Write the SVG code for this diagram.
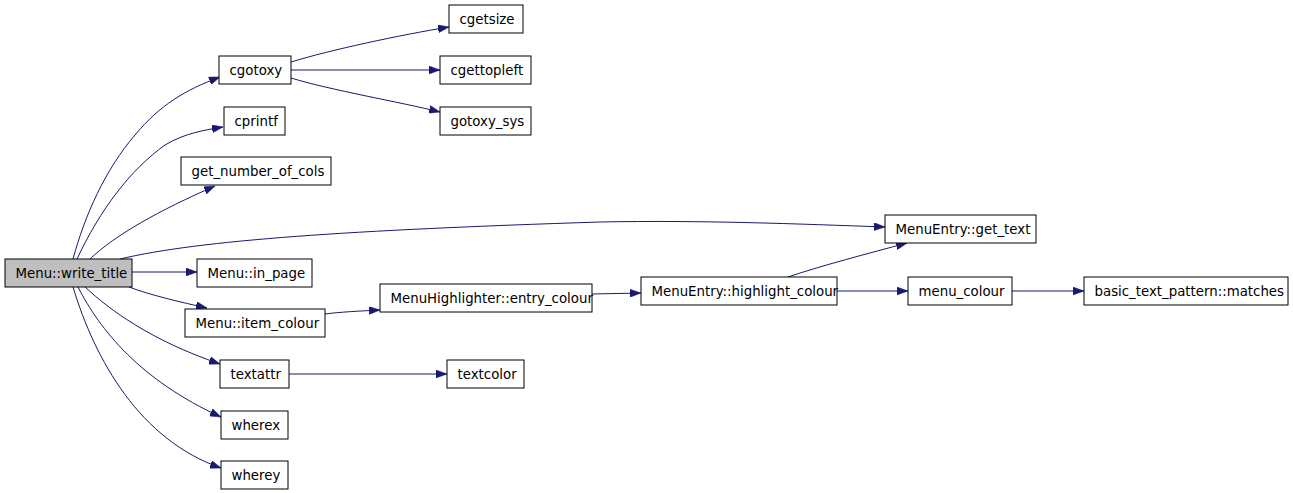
<svg xmlns="http://www.w3.org/2000/svg" width="1293" height="493" viewBox="0 0 1293 493">
<style>
.n rect{fill:#ffffff;stroke:#000000;stroke-width:1}
.n.root rect{fill:#bfbfbf}
.n text{font-family:"DejaVu Sans",sans-serif;font-size:13.33px;fill:#000000}
.e path{fill:none;stroke:#191970;stroke-width:1;marker-end:url(#ah)}
</style>
<defs>
<marker id="ah" markerUnits="userSpaceOnUse" markerWidth="11" markerHeight="8" refX="11" refY="4" orient="auto">
<path d="M0,0 L11,4 L0,8 z" fill="#191970" stroke="#191970" stroke-width="0.5"/>
</marker>
</defs>
<rect width="1293" height="493" fill="#ffffff"/>
<g id="edges" class="e">
<path d="M73,259 C85,215 105,170 135,135 C160,105 185,90 220,77"/>
<path d="M77,259 C100,210 130,170 165,145 C185,133 205,130 223,127"/>
<path d="M90,259 C115,235 160,210 215,186"/>
<path d="M120,259 C200,240 350,230 600,222 C700,220 800,224 885,227"/>
<path d="M132,272 L197,272"/>
<path d="M129,287 C150,295 180,302 207,308"/>
<path d="M85,287 C110,310 150,340 220,364"/>
<path d="M78,287 C100,330 140,380 221,417"/>
<path d="M73,287 C95,360 140,440 221,468"/>
<path d="M291,62 C330,50 400,35 449,27"/>
<path d="M291,70 L440,70"/>
<path d="M291,78 C330,90 400,102 440,112"/>
<path d="M325,314 C340,312 360,311 380,310"/>
<path d="M592,294 L641,293"/>
<path d="M788,277 C820,266 870,253 907,243"/>
<path d="M837,291 L908,291"/>
<path d="M1012,291 L1084,291"/>
<path d="M289,374 L447,374"/>
</g>
<g id="n_write_title" class="n root"><rect x="5" y="259" width="127" height="28"/><text x="15.5" y="277.5">Menu::write_title</text></g>
<g id="n_cgotoxy" class="n"><rect x="219" y="56" width="72" height="28"/><text x="229.5" y="74.5">cgotoxy</text></g>
<g id="n_cgetsize" class="n"><rect x="449" y="5" width="74" height="28"/><text x="459.5" y="23.5">cgetsize</text></g>
<g id="n_cgettopleft" class="n"><rect x="440" y="56" width="91" height="28"/><text x="450.5" y="74.5">cgettopleft</text></g>
<g id="n_gotoxy_sys" class="n"><rect x="440" y="107" width="91" height="28"/><text x="450.5" y="125.5">gotoxy_sys</text></g>
<g id="n_cprintf" class="n"><rect x="224" y="107" width="61" height="28"/><text x="234.5" y="125.5">cprintf</text></g>
<g id="n_get_number_of_cols" class="n"><rect x="181" y="157" width="150" height="28"/><text x="191.5" y="175.5">get_number_of_cols</text></g>
<g id="n_get_text" class="n"><rect x="885" y="215" width="151" height="28"/><text x="895.5" y="233.5">MenuEntry::get_text</text></g>
<g id="n_in_page" class="n"><rect x="197" y="259" width="115" height="28"/><text x="207.5" y="277.5">Menu::in_page</text></g>
<g id="n_item_colour" class="n"><rect x="185" y="309" width="140" height="28"/><text x="195.5" y="327.5">Menu::item_colour</text></g>
<g id="n_entry_colour" class="n"><rect x="380" y="284" width="212" height="28"/><text x="390.5" y="302.5">MenuHighlighter::entry_colour</text></g>
<g id="n_highlight_colour" class="n"><rect x="641" y="277" width="196" height="28"/><text x="651.5" y="295.5">MenuEntry::highlight_colour</text></g>
<g id="n_menu_colour" class="n"><rect x="908" y="277" width="104" height="28"/><text x="918.5" y="295.5">menu_colour</text></g>
<g id="n_matches" class="n"><rect x="1084" y="277" width="204" height="28"/><text x="1094.5" y="295.5">basic_text_pattern::matches</text></g>
<g id="n_textattr" class="n"><rect x="220" y="360" width="69" height="28"/><text x="230.5" y="378.5">textattr</text></g>
<g id="n_textcolor" class="n"><rect x="447" y="360" width="77" height="28"/><text x="457.5" y="378.5">textcolor</text></g>
<g id="n_wherex" class="n"><rect x="221" y="411" width="67" height="28"/><text x="231.5" y="429.5">wherex</text></g>
<g id="n_wherey" class="n"><rect x="221" y="461" width="67" height="28"/><text x="231.5" y="479.5">wherey</text></g>
</svg>
